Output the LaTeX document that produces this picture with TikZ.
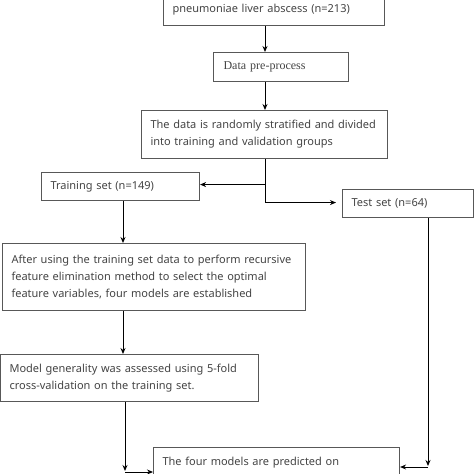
\documentclass[tikz,border=0pt]{standalone}
\usepackage{fontspec}
\setmainfont{Noto Sans}
\newfontfamily\serifbox{Liberation Serif}
\usetikzlibrary{arrows.meta,calc}
\definecolor{boxline}{HTML}{585858}
\definecolor{txt}{HTML}{444444}
\tikzset{
  flowbox/.style={draw=boxline, line width=1.1pt, text=txt, font=\fontsize{11}{17}\selectfont,
    inner xsep=9pt, inner ysep=0pt, align=left, anchor=north west},
  arr/.style={-{Stealth[length=6pt,width=5pt]}, line width=0.9pt, black},
  ln/.style={line width=0.9pt, black}
}
\begin{document}
\begin{tikzpicture}[x=1pt,y=-1pt]
\useasboundingbox (0,0) rectangle (474,474);
\clip (0,0) rectangle (474,474);
\fill[white] (0,0) rectangle (474,474);
\coordinate (spine) at (265,0);
\coordinate (colL) at (123,0);
\coordinate (colL2) at (125,0);
\coordinate (colR) at (428,0);

\node[flowbox, text width=203pt, text height=40pt, text depth=13pt, anchor=south west] (n1) at (163,26)
  {pneumoniae liver abscess (n=213)};
\node[flowbox, text width=115pt, minimum height=29pt, inner xsep=10pt, font=\serifbox\fontsize{12}{13}\selectfont] (n2) at (213,52) {Data pre-process};
\node[flowbox, text width=228pt, minimum height=48pt] (n3) at (141,110)
  {\mbox{The data is randomly stratified and divided}\\\mbox{into training and validation groups}};
\node[flowbox, text width=140pt, minimum height=28pt] (trn) at (41,172) {Training set (n=149)};
\node[flowbox, text width=113pt, minimum height=28pt] (tst) at (342,189) {Test set (n=64)};
\node[flowbox, text width=285pt, minimum height=67pt] (n4) at (2,243)
  {\makebox[\linewidth][s]{After using the training set data to perform recursive}\\
   \makebox[\linewidth][s]{feature elimination method to select the optimal}\\
   feature variables, four models are established};
\node[flowbox, text width=240pt, minimum height=47pt] (n5) at (0,354)
  {\mbox{Model generality was assessed using 5-fold}\\\mbox{cross-validation on the training set.}};
\node[flowbox, text width=228pt, text height=18pt, text depth=40pt] (n6) at (153,447)
  {The four models are predicted on};

\draw[arr] (n1.south -| spine) -- (n2.north -| spine);
\draw[arr] (n2.south -| spine) -- (n3.north -| spine);
\draw[ln] (n3.south -| spine) -- ($(spine |- tst.west)+(0,-1)$) coordinate (sp2);
\draw[arr] (sp2) -- ($(tst.west)+(-6,-1)$);
\draw[arr] ($(spine |- trn.east)+(0,-2)$) -- ($(trn.east)+(0,-2)$);
\draw[arr] (trn.south -| colL) -- (n4.north -| colL);
\draw[arr] (n4.south -| colL) -- (n5.north -| colL);
\draw[arr] (n5.south -| colL2) -- (colL2 |- 0,471) coordinate (bl);
\draw[arr] ($(bl)+(0,1)$) -- ($(bl -| n6.west)+(0,1)$);
\draw[arr] (tst.south -| colR) -- (colR |- 0,466) coordinate (br);
\draw[arr] ($(br)+(0,1)$) -- ($(br -| n6.east)+(0,1)$);
\end{tikzpicture}
\end{document}
